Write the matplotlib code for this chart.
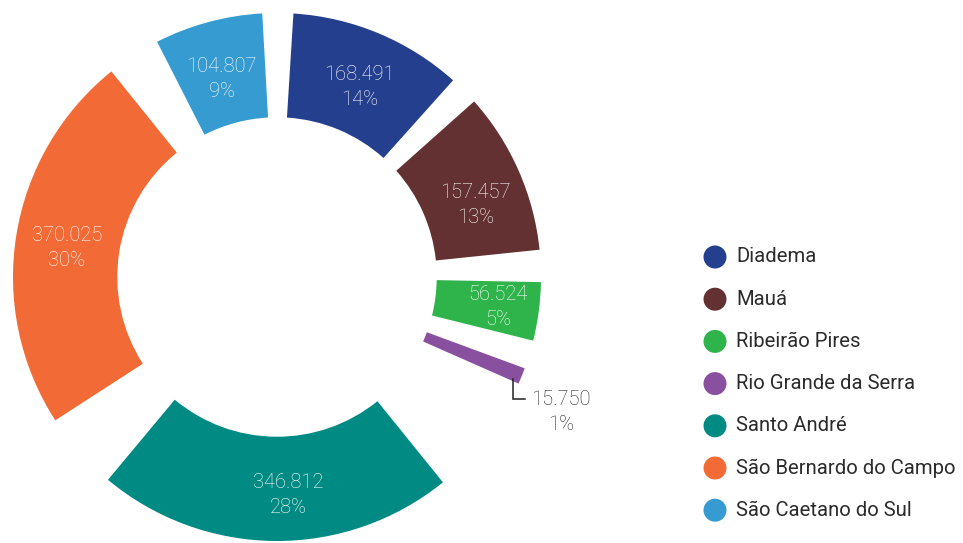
import matplotlib
matplotlib.use("Agg")
import matplotlib.pyplot as plt
from matplotlib.patches import Wedge, Circle
import numpy as np

# ---- data ----
categories = ["Diadema", "Mauá", "Ribeirão Pires", "Rio Grande da Serra",
              "Santo André", "São Bernardo do Campo", "São Caetano do Sul"]
values = [168491, 157457, 56524, 15750, 346812, 370025, 104807]
colors = ["#253f8f", "#633131", "#2eb44b", "#8a50a0", "#008a84", "#f26a35", "#359bd0"]

# ---- style / layout ----
gaps_after = [6.48, 7.05, 6.29, 27.24, 17.31, 11.85, 6.78]  # angular gaps (deg) after each slice
start_deg = 3.57                                             # clockwise from 12 o'clock
CX, CY, RPX = 277, 277, 264                                  # centre & outer radius in pixels
W, H = 963, 543
ring_width = 0.395
label_r = [0.786, 0.80, 0.845, 0.79, 0.828, 0.804, 0.778]
label_da = [0.7, 4.0, 0.25, 0.0, -3.3, -1.2, -0.5]

def fmt(v):
    return f"{v:,}".replace(",", ".")

fig = plt.figure(figsize=(W / 100, H / 100), dpi=100)
ax = fig.add_axes([0, 0, 1, 1])
ax.set_xlim(-CX / RPX, (W - CX) / RPX)
ax.set_ylim(-(H - CY) / RPX, CY / RPX)
ax.set_aspect("equal")
ax.axis("off")

def p2d(px, py):
    return (px - CX) / RPX, (CY - py) / RPX

PX = 1.0 / RPX  # one pixel in data units

total = sum(values)
avail = 360.0 - sum(gaps_after)
lab_font = "Roboto"
leg_font = "Roboto"

a = start_deg
for i, (cat, v, c) in enumerate(zip(categories, values, colors)):
    span = v / total * avail
    a1, a2 = a, a + span
    ax.add_patch(Wedge((0, 0), 1.0, 90 - a2, 90 - a1, width=ring_width,
                       facecolor=c, edgecolor="none"))
    mid_deg = (a1 + a2) / 2
    pct = round(v / total * 100)
    txt = f"{fmt(v)}\n{pct}%"
    if cat == "Rio Grande da Serra":
        m = np.deg2rad(mid_deg)
        ex, ey = np.sin(m), np.cos(m)
        ox, oy = ex - 9 * PX, ey - 3 * PX
        ax.plot([ox, ox, ox + 12 * PX], [oy, oy - 20 * PX, oy - 20 * PX],
                color="#222222", lw=1.1, solid_joinstyle="miter")
        ax.text(ex + 39 * PX, ey - 36 * PX, txt, ha="center", va="center",
                fontsize=14.5, color="#222222", family=lab_font, fontweight="light",
                linespacing=1.4)
    else:
        m = np.deg2rad(mid_deg + label_da[i])
        r = label_r[i]
        ax.text(r * np.sin(m), r * np.cos(m), txt, ha="center", va="center",
                fontsize=14.5, color="white", family=lab_font, fontweight="light",
                linespacing=1.4)
    a = a2 + gaps_after[i]

# ---- legend ----
leg_x, leg_y0, leg_dy = 715, 257, 42.2
for i, (cat, c) in enumerate(zip(categories, colors)):
    x, y = p2d(leg_x, leg_y0 + i * leg_dy)
    ax.add_patch(Circle((x, y), 11.5 / RPX, facecolor=c, edgecolor="none"))
    tx, ty = p2d(736, leg_y0 + i * leg_dy)
    ax.text(tx, ty, cat, ha="left", va="center", fontsize=14.6,
            color="#2b2b2b", family=leg_font)

fig.savefig("out.png", dpi=100)
